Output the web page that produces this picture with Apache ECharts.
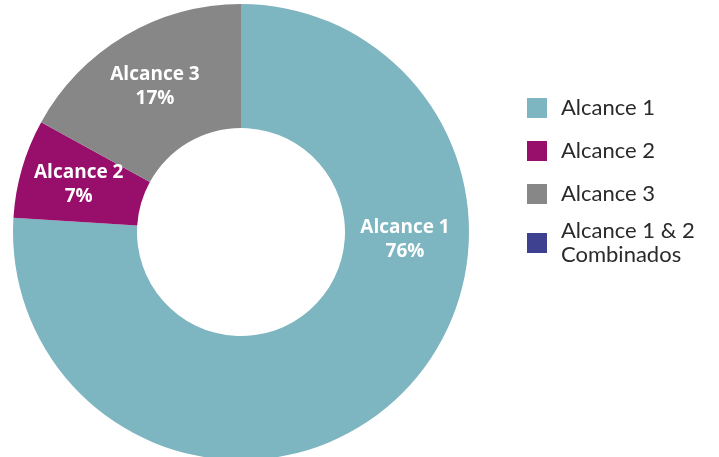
<!DOCTYPE html>
<html>
<head>
<meta charset="utf-8">
<script src="https://cdn.jsdelivr.net/npm/echarts@6/dist/echarts.min.js"></script>
<style>
  html, body { margin: 0; padding: 0; background: #fff; }
  #chart { width: 719px; height: 457px; }
</style>
</head>
<body>
<div id="chart"></div>
<script>
// Emission scopes, share of total (%)
const categories = ['Alcance 1', 'Alcance 2', 'Alcance 3', 'Alcance 1 & 2\nCombinados']
const shares = [76, 7, 17, 0]
const colors = ['#7db5c0', '#970f6a', '#878787', '#3e4090']

const chart = echarts.init(document.getElementById('chart'))

const legendBase = {
  orient: 'vertical',
  left: 522,
  icon: 'rect',
  itemWidth: 20,
  itemHeight: 20,
  itemGap: 19,
  textStyle: { color: '#2a2a2a', fontSize: 22, lineHeight: 24, fontFamily: 'Lato', padding: [0, 0, 0, 9] },
  selectedMode: false,
}

chart.setOption({
  backgroundColor: '#fff',
  legend: [
    Object.assign({}, legendBase, { top: 91, data: categories.slice(0, 3) }),
    Object.assign({}, legendBase, { top: 214, data: categories.slice(3) }),
  ],
  series: [
    {
      type: 'pie',
      radius: [104, 228],
      center: [241, 232],
      startAngle: 90,
      clockwise: true,
      avoidLabelOverlap: false,
      emphasis: { disabled: true },
      itemStyle: { borderWidth: 0 },
      label: {
        show: true,
        position: 'inside',
        color: '#fff',
        fontSize: 19,
        fontWeight: 'bold',
        fontFamily: 'Open Sans',
        lineHeight: 24,
        formatter: (p) => `${p.name}\n${p.value}%`,
      },
      labelLine: { show: false },
      // the big slice's label sits at the right side of the ring, not at mid-angle
      labelLayout: (params) => (params.dataIndex === 0 ? { x: 405, y: 240 } : {}),
      data: categories.map((name, i) => ({
        name,
        value: shares[i],
        itemStyle: { color: colors[i] },
        label: { show: shares[i] > 0 },
      })),
    },
  ],
})
</script>
</body>
</html>
